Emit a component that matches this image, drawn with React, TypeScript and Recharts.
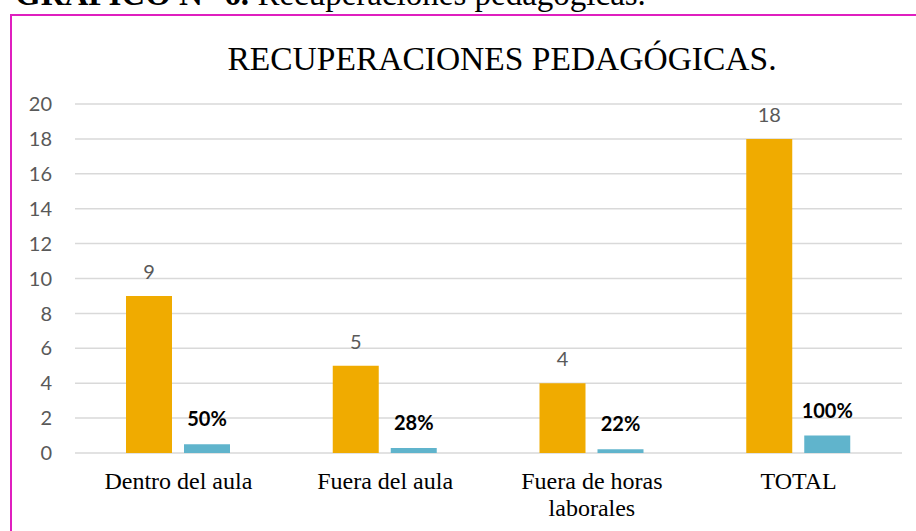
import { Bar, BarChart, CartesianGrid, LabelList, XAxis, YAxis } from "recharts";

const categories = ["Dentro del aula", "Fuera del aula", "Fuera de horas laborales", "TOTAL"];
const frequency = [9, 5, 4, 18];
const percentage = [0.5, 0.28, 0.22, 1];
const yTicks = [0, 2, 4, 6, 8, 10, 12, 14, 16, 18, 20];

const serif = "'Liberation Serif', 'Times New Roman', serif";
const sans = "Lato, 'Open Sans', sans-serif";

let ctx: CanvasRenderingContext2D | null = null;
function measure(s: string) {
  if (!ctx) {
    ctx = document.createElement("canvas").getContext("2d");
    if (ctx) ctx.font = `24px ${serif}`;
  }
  return ctx ? ctx.measureText(s).width : s.length * 11;
}

// greedy word wrap, like Excel does for long category names
function wrap(label: string, maxWidth: number) {
  const lines: string[] = [];
  let current = "";
  for (const word of label.split(" ")) {
    const next = current ? `${current} ${word}` : word;
    if (current && measure(next) > maxWidth) {
      lines.push(current);
      current = word;
    } else {
      current = next;
    }
  }
  if (current) lines.push(current);
  return lines;
}

function CategoryTick(props: any) {
  const { x, y, payload } = props;
  const lines = wrap(String(payload.value), 190);
  return (
    <text x={x} y={y} textAnchor="middle" fontFamily={serif} fontSize={24} fill="#000">
      {lines.map((line, i) => (
        <tspan key={i} x={x} dy={i === 0 ? 17 : 27}>
          {line}
        </tspan>
      ))}
    </text>
  );
}

export default function App() {
  const chartData = categories.map((name, i) => ({
    name,
    frequency: frequency[i],
    percentage: percentage[i],
  }));

  return (
    <div style={{ position: "absolute", left: 0, top: 0, width: 916, height: 531, overflow: "hidden", background: "#fff" }}>
      <svg width={916} height={531} style={{ position: "absolute", left: 0, top: 0 }}>
        <text x={15} y={5} fontFamily={serif} fontSize={33} fill="#000">
          <tspan fontWeight="bold">GRÁFICO N° 6.</tspan> Recuperaciones pedagógicas.
        </text>
        <rect x={11} y={15} width={940} height={600} fill="none" stroke="#DF1FBF" strokeWidth={2} />
        <text x={502} y={70} textAnchor="middle" fontFamily={serif} fontSize={33.5} fill="#000">
          RECUPERACIONES PEDAGÓGICAS.
        </text>
      </svg>
      <div style={{ position: "absolute", left: 0, top: 0 }}>
        <BarChart
          width={916}
          height={531}
          data={chartData}
          margin={{ top: 104, right: 14, left: 15, bottom: 18 }}
          barSize={46}
          barGap={12}
        >
          <CartesianGrid stroke="#D9D9D9" strokeWidth={1.5} vertical={false} />
          <XAxis
            dataKey="name"
            height={60}
            axisLine={false}
            tickLine={false}
            tickSize={0}
            tickMargin={19}
            interval={0}
            tick={<CategoryTick />}
          />
          <YAxis
            width={60}
            domain={[0, 20]}
            ticks={yTicks}
            axisLine={false}
            tickLine={false}
            tickSize={0}
            tickMargin={23}
            tick={{ fill: "#595959", fontSize: 20, fontFamily: sans }}
          />
          <Bar dataKey="frequency" fill="#F0AB00" isAnimationActive={false}>
            <LabelList dataKey="frequency" position="top" offset={17} fill="#595959" fontSize={20} fontFamily={sans} />
          </Bar>
          <Bar dataKey="percentage" fill="#60B4CC" isAnimationActive={false}>
            <LabelList
              dataKey="percentage"
              position="top"
              offset={18}
              fill="#000"
              fontSize={20}
              fontWeight="bold"
              fontFamily={sans}
              formatter={(v: any) => `${Math.round(Number(v) * 100)}%`}
            />
          </Bar>
        </BarChart>
      </div>
    </div>
  );
}
